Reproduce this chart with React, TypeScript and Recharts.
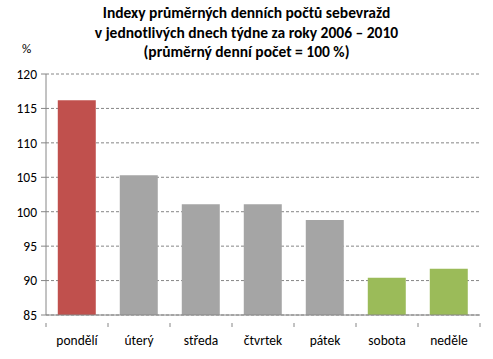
import { BarChart, Bar, XAxis, YAxis, CartesianGrid, Cell } from "recharts";

const days = ["pondělí", "úterý", "středa", "čtvrtek", "pátek", "sobota", "neděle"];
const indexValues = [116.2, 105.3, 101.1, 101.1, 98.8, 90.4, 91.7];
const barColors = ["#C0504D", "#A5A5A5", "#A5A5A5", "#A5A5A5", "#A5A5A5", "#9BBB59", "#9BBB59"];
const yTicks = [85, 90, 95, 100, 105, 110, 115, 120];

const data = days.map((day, i) => ({ day, value: indexValues[i] }));

const FONT = "Calibri, Carlito, Lato, sans-serif";
const AXIS = "#868686";
const W = 493;
const H = 359;
const PLOT_LEFT = 46;
const PLOT_RIGHT = 480;
const HALF_BAND = (PLOT_RIGHT - PLOT_LEFT) / days.length / 2;

// Excel-style category axis: tick marks sit between categories
const DayTick = (props: any) => {
  const { x, y, payload, index } = props;
  return (
    <g>
      <line x1={x - HALF_BAND} x2={x - HALF_BAND} y1={y} y2={y + 4} stroke={AXIS} />
      {index === days.length - 1 && (
        <line x1={x + HALF_BAND} x2={x + HALF_BAND} y1={y} y2={y + 4} stroke={AXIS} />
      )}
      <text x={x} y={y + 22} textAnchor="middle" fontSize={13.5} fill="#000" fontFamily={FONT}>
        {payload.value}
      </text>
    </g>
  );
};

export default function App() {
  return (
    <div style={{ position: "absolute", left: 0, top: 0, width: W, height: H, background: "#fff" }}>
      <div
        style={{
          position: "absolute",
          left: 0,
          top: 3,
          width: W,
          textAlign: "center",
          fontFamily: FONT,
          fontWeight: 700,
          fontSize: 15.5,
          lineHeight: "19.5px",
          color: "#000",
        }}
      >
        Indexy průměrných denních počtů sebevražd
        <br />
        v jednotlivých dnech týdne za roky 2006 – 2010
        <br />
        (průměrný denní počet = 100 %)
      </div>
      <div
        style={{
          position: "absolute",
          left: 22,
          top: 41,
          fontFamily: FONT,
          fontSize: 13,
          color: "#000",
        }}
      >
        %
      </div>
      <BarChart
        width={W}
        height={H}
        data={data}
        margin={{ top: 74, right: W - PLOT_RIGHT, bottom: 0, left: 0 }}
        barCategoryGap="19%"
      >
        <CartesianGrid vertical={false} stroke={AXIS} strokeDasharray="3 2" />
        <XAxis
          dataKey="day"
          height={44}
          axisLine={{ stroke: AXIS }}
          tickLine={false}
          tick={<DayTick />}
          interval={0}
        />
        <YAxis
          domain={[85, 120]}
          ticks={yTicks}
          width={PLOT_LEFT}
          axisLine={{ stroke: AXIS }}
          tickLine={{ stroke: AXIS }}
          tickSize={5}
          tickMargin={4}
          tick={{ fontSize: 13.5, fill: "#000", fontFamily: FONT }}
          allowDataOverflow
        />
        <Bar dataKey="value" isAnimationActive={false}>
          {data.map((d, i) => (
            <Cell key={d.day} fill={barColors[i]} />
          ))}
        </Bar>
      </BarChart>
    </div>
  );
}
